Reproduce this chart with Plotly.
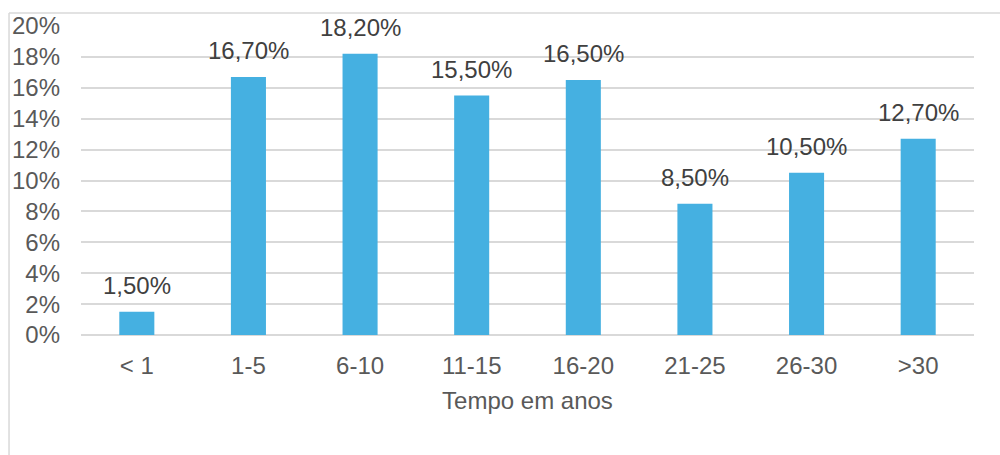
import plotly.graph_objects as go

categories = ["< 1", "1-5", "6-10", "11-15", "16-20", "21-25", "26-30", ">30"]
values = [1.5, 16.7, 18.2, 15.5, 16.5, 8.5, 10.5, 12.7]
labels = ["1,50%", "16,70%", "18,20%", "15,50%", "16,50%", "8,50%", "10,50%", "12,70%"]
ytick_vals = [0, 2, 4, 6, 8, 10, 12, 14, 16, 18, 20]
ytick_text = [f"{v}%" for v in ytick_vals]

font = "Liberation Sans, Arial, sans-serif"

fig = go.Figure(
    go.Bar(
        x=categories,
        y=values,
        marker=dict(color="#45B0E1", line=dict(width=0)),
        hoverinfo="x+y",
    )
)

for c, v, t in zip(categories, values, labels):
    fig.add_annotation(
        x=c, y=v, text=t, showarrow=False, yanchor="bottom", yshift=11,
        font=dict(family=font, size=24, color="#404040"),
    )

fig.update_layout(
    width=1000,
    height=455,
    margin=dict(l=81, r=26, t=24, b=120),
    paper_bgcolor="white",
    plot_bgcolor="white",
    bargap=0.686,
    showlegend=False,
    font=dict(family=font, color="#595959"),
    xaxis=dict(
        showgrid=False,
        showline=False,
        ticks="",
        ticklabelstandoff=14,
        tickfont=dict(size=24, color="#595959"),
        title=dict(text="Tempo em anos", font=dict(size=24, color="#595959"), standoff=14),
    ),
    yaxis=dict(
        range=[0, 20],
        tickvals=ytick_vals,
        ticktext=ytick_text,
        showgrid=True,
        gridcolor="#D9D9D9",
        gridwidth=1.5,
        zeroline=True,
        zerolinecolor="#D9D9D9",
        zerolinewidth=1.5,
        showline=False,
        ticks="",
        ticklabelstandoff=20,
        tickfont=dict(size=24, color="#595959"),
    ),
    shapes=[
        dict(type="line", xref="paper", yref="paper", x0=-0.0806, x1=1.2, y0=1.0418, y1=1.0418,
             line=dict(color="#D9D9D9", width=1.5)),
        dict(type="line", xref="paper", yref="paper", x0=-0.0806, x1=-0.0806, y0=-0.5, y1=1.0418,
             line=dict(color="#D9D9D9", width=1.5)),
    ],
)

fig.write_html("out.html")
